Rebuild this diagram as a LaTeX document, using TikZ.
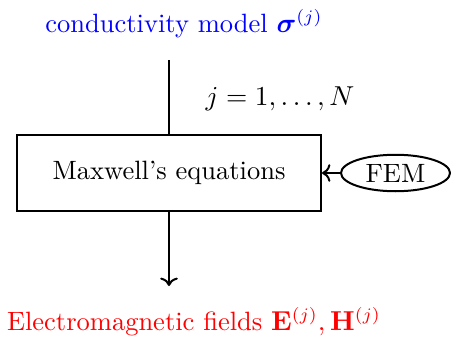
\documentclass[tikz,border=0pt]{standalone}
\usepackage{amsmath,amssymb,bm}
\usepackage{xcolor}
\usetikzlibrary{positioning,shapes,arrows.meta}

\begin{document}
\begin{tikzpicture}[x=0.4pt,y=-0.4pt, thick, font=\fontsize{10.6pt}{12.7pt}\selectfont]
    \useasboundingbox (0,0) rectangle (451,339);
    % input model
    \node[text=blue, inner sep=0pt] (model) at (184,24) {conductivity model $\bm{\sigma}^{(j)}$};
    \coordinate (top) at (169,60);
    % solver block
    \node[draw, rectangle, minimum width=121.6pt, minimum height=30.4pt, inner sep=0pt] (maxwell) at (169,173) {Maxwell's equations};
    \node[draw, ellipse, minimum width=43.6pt, minimum height=14.6pt, inner sep=0pt] (fem) at (395.5,173) {FEM};
    \node[inner sep=0pt] (loop) at (280,99) {$j=1,\ldots,N$};
    % output
    \coordinate (bottom) at (169,286);
    \node[text=red, inner sep=0pt] (fields) at (194,322) {Electromagnetic fields $\mathbf{E}^{(j)},\mathbf{H}^{(j)}$};
    % connections
    \draw (top) -- (maxwell.north);
    \draw[->] (maxwell.south) -- (bottom);
    \draw[->] (fem.west) -- (maxwell.east);
\end{tikzpicture}
\end{document}
